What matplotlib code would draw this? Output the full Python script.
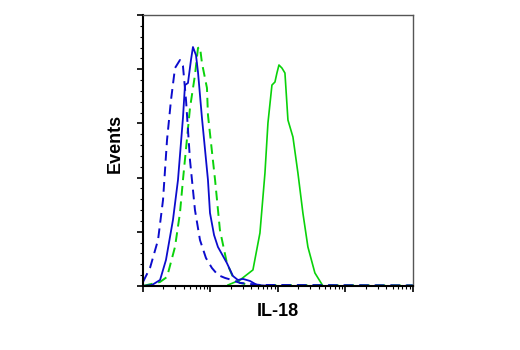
import matplotlib.pyplot as plt
from matplotlib.ticker import LogLocator, MultipleLocator, NullFormatter

# IL-18 intensity (log scale) and event counts for each histogram
blue_dash_x = [1.0, 1.27, 1.67, 1.98, 2.27, 2.6, 2.98, 3.53, 3.91, 4.34, 4.97, 5.89,
               6.99, 8.57, 10.5, 12.9, 16.4, 20.8, 27.4, 54.1, 10000]
blue_dash_y = [3.7, 16.6, 42.4, 79.3, 134.7, 171.6, 201.1, 208.5, 203.0, 171.6, 116.2, 70.1,
               42.4, 25.8, 16.6, 10.1, 7.4, 5.5, 2.8, 0.9, 0.5]

blue_x = [1.0, 1.36, 1.79, 2.19, 2.78, 3.3, 3.91, 4.19, 4.64, 5.14, 5.5, 6.1, 6.53,
          7.48, 9.18, 9.84, 11.3, 12.9, 17.5, 21.5, 25.5, 30.3, 38.5, 48.9, 76, 10000]
blue_y = [0, 0.9, 5.5, 24, 60.9, 97.8, 155, 185.4, 187.3, 208.5, 220.5, 213, 197.4,
          155, 97.8, 67.3, 47, 36, 21.2, 9.2, 5.5, 6.5, 4.6, 0.9, 0, 0]

green_dash_x = [1.0, 1.79, 2.27, 2.98, 3.53, 3.91, 4.97, 5.89, 6.53, 6.99, 7.48, 8.87,
                9.18, 11.7, 13.8, 17.5, 21.5, 27.4, 38.5, 10000]
green_dash_y = [0, 3.7, 8.3, 36, 67.3, 97.8, 164.2, 194.6, 219.6, 220.5, 205.7, 182.7,
                157.7, 97.8, 51.7, 21.2, 8.3, 2.8, 0.9, 0.5]

green_x = [18.2, 27.4, 42.6, 54.1, 64.2, 71.1, 81.5, 90.3, 96.6, 103.5, 114.6, 127,
           140.7, 166.8, 197.8, 234.4, 278, 353, 464, 10000]
green_y = [0.9, 5.5, 14.8, 48.9, 104.2, 150.4, 185.4, 188.2, 196.5, 203.9, 201.1, 196.5,
           153.1, 137.5, 104.2, 67.3, 36, 12, 0, 0]

blue = '#0c0ccd'
green = '#0ad20a'

fig = plt.figure(figsize=(5.2, 3.5), dpi=100)
ax = fig.add_axes([0.275, 0.183, 0.519, 0.774])

ax.plot(green_x, green_y, color=green, lw=1.2)
ax.plot(green_dash_x, green_dash_y, color=green, lw=1.4, dashes=(5, 3))
ax.plot(blue_dash_x, blue_dash_y, color=blue, lw=1.4, dashes=(5, 3))
ax.plot(blue_x, blue_y, color=blue, lw=1.3)

ax.set_xscale('log')
ax.set_xlim(1, 10000)
ax.set_ylim(0, 250)

ax.xaxis.set_major_locator(LogLocator(base=10))
ax.xaxis.set_minor_locator(LogLocator(base=10, subs=range(2, 10)))
ax.xaxis.set_major_formatter(NullFormatter())
ax.xaxis.set_minor_formatter(NullFormatter())
ax.yaxis.set_major_locator(MultipleLocator(50))
ax.yaxis.set_minor_locator(MultipleLocator(10))
ax.yaxis.set_major_formatter(NullFormatter())

ax.tick_params(which='major', length=4, width=1.2, color='black')
ax.tick_params(which='minor', length=2.5, width=0.8, color='black')

for side in ['left', 'bottom']:
    ax.spines[side].set_linewidth(1.5)
    ax.spines[side].set_color('black')
for side in ['top', 'right']:
    ax.spines[side].set_linewidth(1.0)
    ax.spines[side].set_color('#555555')

font = ['Liberation Sans', 'DejaVu Sans']
fig.text(0.535, 0.110, 'IL-18', fontsize=13, fontweight='bold', family=font,
         ha='center', va='center')
fig.text(0.222, 0.590, 'Events', fontsize=13, fontweight='bold', family=font,
         ha='center', va='center', rotation=90)

fig.savefig('out.png', dpi=100)
